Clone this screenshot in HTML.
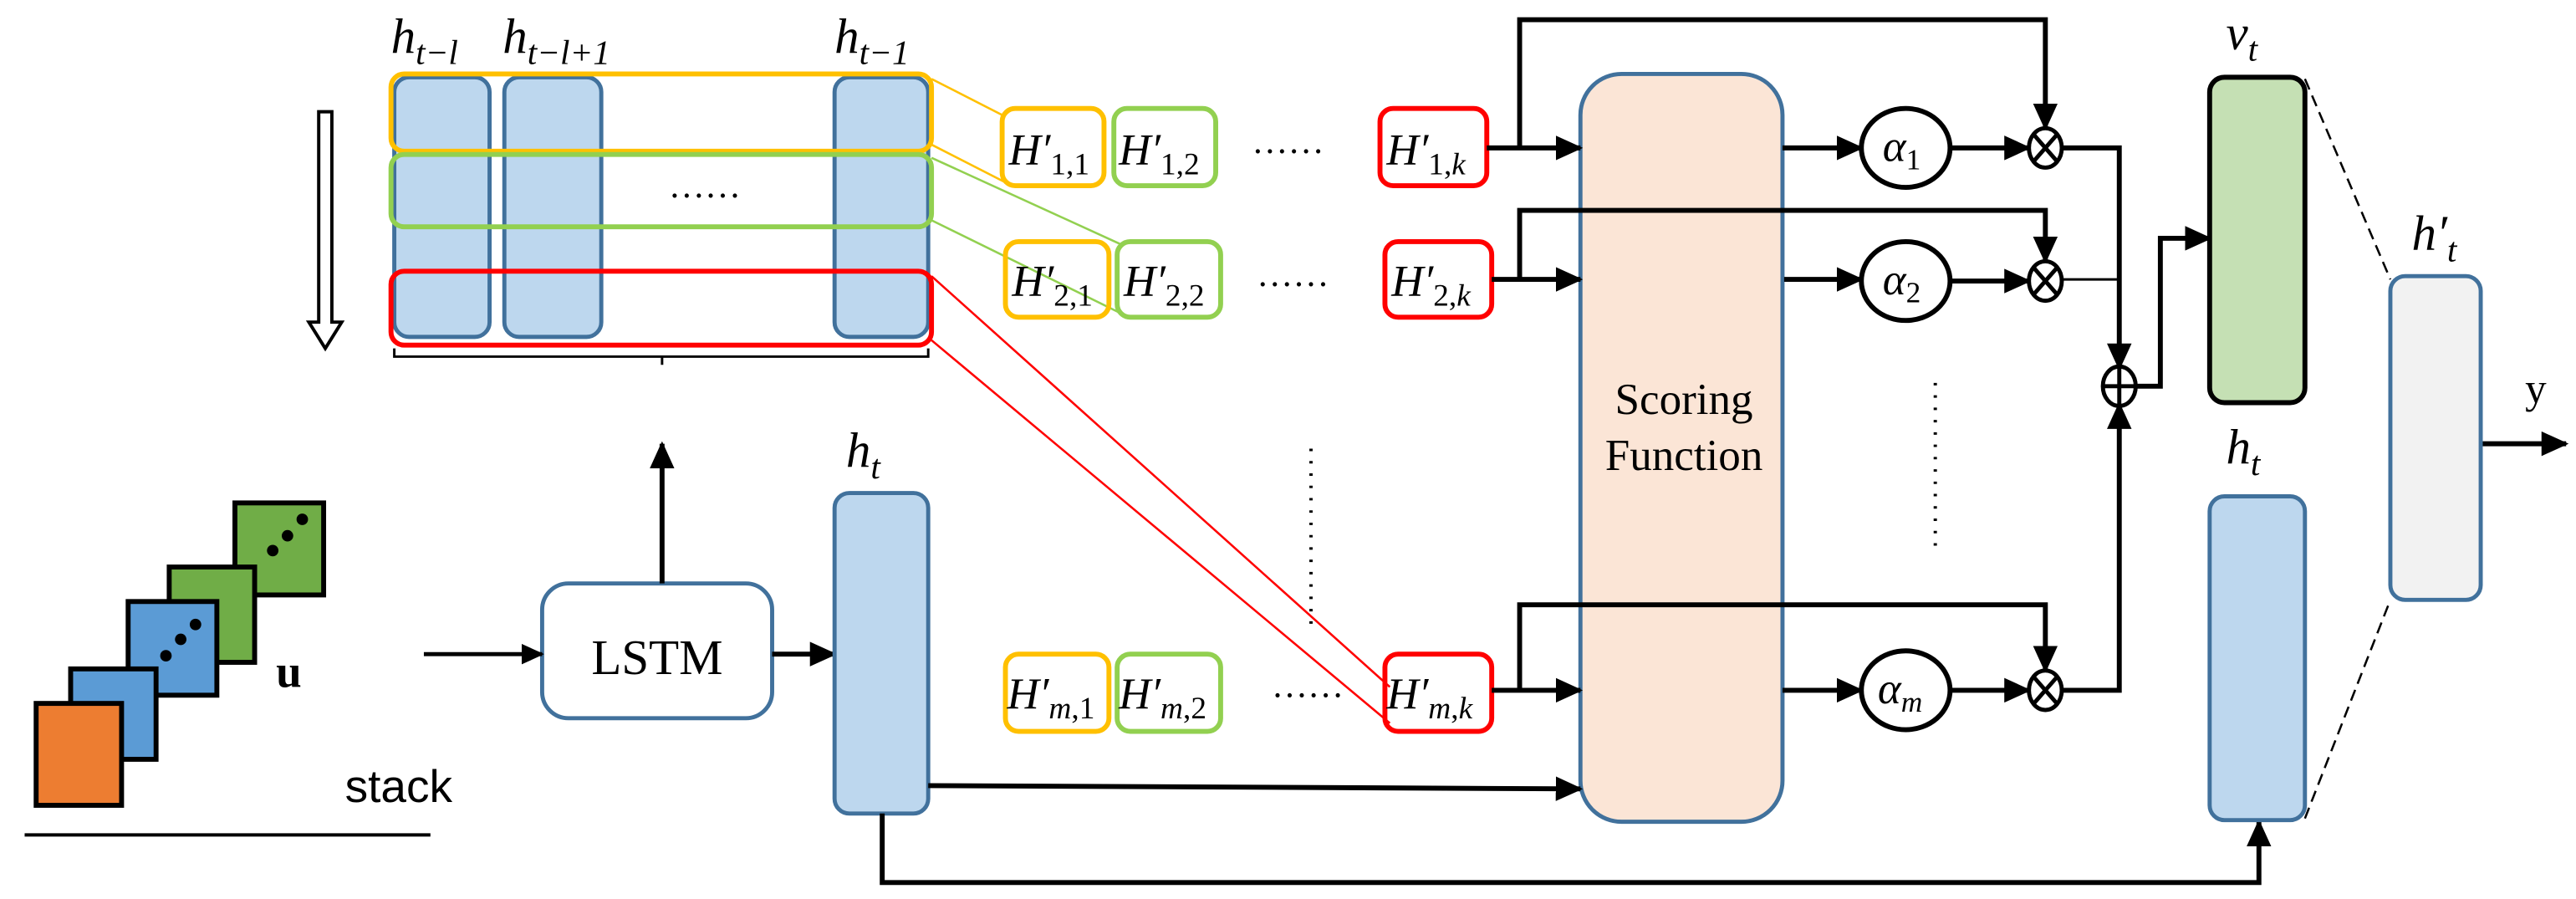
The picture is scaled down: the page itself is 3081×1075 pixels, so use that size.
<!DOCTYPE html>
<html><head><meta charset="utf-8"><style>html,body{margin:0;padding:0;background:#fff}svg{display:block}</style></head>
<body>
<svg width="3081" height="1075" viewBox="0 0 1568 547" preserveAspectRatio="none" xmlns="http://www.w3.org/2000/svg" font-family="Liberation Serif, serif">
<defs>
<marker id="ah" markerWidth="5.5" markerHeight="5" refX="5" refY="2.5" orient="auto" markerUnits="strokeWidth"><path d="M0,0 L5.5,2.5 L0,5 z" fill="#000"/></marker>
</defs>
<g fill="none">
<path d="M194,68 L202,68 L202,196 L208,196 L198,212 L188,196 L194,196 Z" stroke="#000" stroke-width="2" fill="#fff"/>
<rect x="240" y="47" width="58" height="158" rx="9" fill="#BDD7EE" stroke="#41719C" stroke-width="2.5"/>
<rect x="307" y="47" width="59" height="158" rx="9" fill="#BDD7EE" stroke="#41719C" stroke-width="2.5"/>
<rect x="508" y="47" width="57" height="158" rx="9" fill="#BDD7EE" stroke="#41719C" stroke-width="2.5"/>
<rect x="238" y="45" width="329" height="47" rx="8" stroke="#FFC000" stroke-width="3"/>
<rect x="238" y="94" width="329" height="44" rx="8" stroke="#92D050" stroke-width="3"/>
<rect x="238" y="165" width="329" height="45" rx="8" stroke="#FF0000" stroke-width="3"/>
<path d="M240,212 L240,217 L565,217 L565,212 M403,217 L403,222" stroke="#000" stroke-width="1.5"/>
<path d="M567,48 L614,72 M567,88 L614,112" stroke="#FFC000" stroke-width="1.3"/>
<path d="M567,96 L683,149 M567,134 L683,191" stroke="#92D050" stroke-width="1.3"/>
<path d="M567,168 L846,418 M567,207 L846,440" stroke="#FF0000" stroke-width="1.3"/>
<rect x="610" y="66" width="62" height="47" rx="8" fill="#fff" stroke="#FFC000" stroke-width="3"/>
<rect x="678" y="66" width="62" height="47" rx="8" fill="#fff" stroke="#92D050" stroke-width="3"/>
<rect x="840" y="66" width="65" height="47" rx="8" fill="#fff" stroke="#FF0000" stroke-width="3"/>
<rect x="612" y="147" width="63" height="46" rx="8" fill="none" stroke="#FFC000" stroke-width="3"/>
<rect x="680" y="147" width="63" height="46" rx="8" fill="none" stroke="#92D050" stroke-width="3"/>
<rect x="843" y="147" width="65" height="46" rx="8" fill="#fff" stroke="#FF0000" stroke-width="3"/>
<rect x="612" y="398" width="63" height="47" rx="8" fill="#fff" stroke="#FFC000" stroke-width="3"/>
<rect x="680" y="398" width="63" height="47" rx="8" fill="#fff" stroke="#92D050" stroke-width="3"/>
<rect x="843" y="398" width="65" height="47" rx="8" fill="none" stroke="#FF0000" stroke-width="3"/>
<path d="M798,273 L798,382" stroke="#000" stroke-width="2" stroke-dasharray="1.5,6"/>
<path d="M1178,233 L1178,337" stroke="#000" stroke-width="2" stroke-dasharray="1.5,6"/>
<rect x="962" y="45" width="123" height="455" rx="25" fill="#FBE5D6" stroke="#41719C" stroke-width="2.5"/>
<rect x="330" y="355" width="140" height="82" rx="16" fill="#fff" stroke="#41719C" stroke-width="2.5"/>
<path d="M403,355 L403,270" stroke="#000" stroke-width="3" marker-end="url(#ah)"/>
<path d="M258,398 L330,398" stroke="#000" stroke-width="2.5" marker-end="url(#ah)"/>
<path d="M470,398 L508,398" stroke="#000" stroke-width="3" marker-end="url(#ah)"/>
<rect x="508" y="300" width="57" height="195" rx="9" fill="#BDD7EE" stroke="#41719C" stroke-width="2.5"/>
<path d="M565,478 L962,480" stroke="#000" stroke-width="3" marker-end="url(#ah)"/>
<path d="M537,495 L537,537 L1375,537 L1375,500" stroke="#000" stroke-width="3" marker-end="url(#ah)"/>
<g stroke="#000" stroke-width="3">
<path d="M905,90 L962,90" marker-end="url(#ah)"/>
<path d="M925,90 L925,12 L1245,12 L1245,78" marker-end="url(#ah)"/>
<path d="M1085,90 L1133,90" marker-end="url(#ah)"/>
<path d="M1188,90 L1235,90" marker-end="url(#ah)"/>
<path d="M908,170 L962,170" marker-end="url(#ah)"/>
<path d="M925,170 L925,128 L1245,128 L1245,159" marker-end="url(#ah)"/>
<path d="M1086,170 L1133,170" marker-end="url(#ah)"/>
<path d="M1188,171 L1235,171" marker-end="url(#ah)"/>
<path d="M908,420 L962,420" marker-end="url(#ah)"/>
<path d="M925,420 L925,368 L1245,368 L1245,408" marker-end="url(#ah)"/>
<path d="M1085,420 L1133,420" marker-end="url(#ah)"/>
<path d="M1188,420 L1235,420" marker-end="url(#ah)"/>
<path d="M1256,90 L1290,90 L1290,224" marker-end="url(#ah)"/>
<path d="M1256,170 L1290,170" stroke-width="1.5"/>
<path d="M1256,420 L1290,420 L1290,246" marker-end="url(#ah)"/>
<path d="M1300,235 L1315,235 L1315,145 L1345,145" marker-end="url(#ah)"/>
<path d="M1510,270 L1562,270" marker-end="url(#ah)"/>
</g>
<ellipse cx="1160" cy="90" rx="27" ry="24" fill="#fff" stroke="#000" stroke-width="3"/>
<ellipse cx="1160" cy="171" rx="27" ry="24" fill="#fff" stroke="#000" stroke-width="3"/>
<ellipse cx="1160" cy="420" rx="27" ry="24" fill="#fff" stroke="#000" stroke-width="3"/>
<g stroke="#000" stroke-width="2.5" fill="#fff">
<ellipse cx="1245" cy="90" rx="10" ry="12"/><path d="M1238,82 L1252,98 M1252,82 L1238,98"/>
<ellipse cx="1245" cy="171" rx="10" ry="12"/><path d="M1238,163 L1252,179 M1252,163 L1238,179"/>
<ellipse cx="1245" cy="420" rx="10" ry="12"/><path d="M1238,412 L1252,428 M1252,412 L1238,428"/>
<ellipse cx="1290" cy="235" rx="10" ry="12"/><path d="M1280,235 L1300,235 M1290,223 L1290,247"/>
</g>
<rect x="1345" y="47" width="58" height="198" rx="9" fill="#C5E0B4" stroke="#000" stroke-width="3"/>
<rect x="1345" y="302" width="58" height="197" rx="9" fill="#BDD7EE" stroke="#41719C" stroke-width="2.5"/>
<rect x="1455" y="168" width="55" height="197" rx="9" fill="#F2F2F2" stroke="#41719C" stroke-width="2.5"/>
<path d="M1403,48 L1455,170 M1403,498 L1455,365" stroke="#000" stroke-width="1.3" stroke-dasharray="7,4"/>
<g stroke="#000" stroke-width="3">
<rect x="143" y="306" width="54" height="56" fill="#70AD47"/>
<rect x="103" y="345" width="52" height="58" fill="#70AD47"/>
<rect x="78" y="366" width="54" height="57" fill="#5B9BD5"/>
<rect x="43" y="407" width="52" height="55" fill="#5B9BD5"/>
<rect x="22" y="428" width="52" height="62" fill="#ED7D31"/>
</g>
<g fill="#000"><circle cx="166" cy="335" r="3.5"/><circle cx="175" cy="326" r="3.5"/><circle cx="184" cy="316" r="3.5"/>
<circle cx="101" cy="399" r="3.5"/><circle cx="110" cy="389" r="3.5"/><circle cx="119" cy="380" r="3.5"/></g>
<path d="M15,508 L262,508" stroke="#000" stroke-width="2"/>
</g>
<g fill="#000" font-style="italic" font-size="30">
<text x="238" y="32">h<tspan font-size="21" dy="7">t−l</tspan></text>
<text x="306" y="32">h<tspan font-size="21" dy="7">t−l+1</tspan></text>
<text x="508" y="32">h<tspan font-size="21" dy="7">t−1</tspan></text>
<text x="515" y="284">h<tspan font-size="21" dy="7">t</tspan></text>
<text x="1355" y="30">v<tspan font-size="21" dy="7">t</tspan></text>
<text x="1355" y="282">h<tspan font-size="21" dy="7">t</tspan></text>
<text x="1468" y="152">h′<tspan font-size="21" dy="7">t</tspan></text>
<g font-size="27">
<text x="614" y="100">H′<tspan font-size="19" dy="6" font-style="normal">1,1</tspan></text>
<text x="681" y="100">H′<tspan font-size="19" dy="6" font-style="normal">1,2</tspan></text>
<text x="844" y="100">H′<tspan font-size="19" dy="6"><tspan font-style="normal">1,</tspan>k</tspan></text>
<text x="616" y="180">H′<tspan font-size="19" dy="6" font-style="normal">2,1</tspan></text>
<text x="684" y="180">H′<tspan font-size="19" dy="6" font-style="normal">2,2</tspan></text>
<text x="847" y="180">H′<tspan font-size="19" dy="6"><tspan font-style="normal">2,</tspan>k</tspan></text>
<text x="613" y="431">H′<tspan font-size="19" dy="6">m<tspan font-style="normal">,1</tspan></tspan></text>
<text x="681" y="431">H′<tspan font-size="19" dy="6">m<tspan font-style="normal">,2</tspan></tspan></text>
<text x="844" y="431">H′<tspan font-size="19" dy="6">m<tspan font-style="normal">,</tspan>k</tspan></text>
<text x="1146" y="98">α<tspan font-size="18" dy="5" font-style="normal">1</tspan></text>
<text x="1146" y="179">α<tspan font-size="18" dy="5" font-style="normal">2</tspan></text>
<text x="1143" y="428">α<tspan font-size="18" dy="5">m</tspan></text>
</g>
</g>
<g fill="#000" font-size="22">
<text x="407" y="120">……</text>
<text x="762" y="93">……</text>
<text x="765" y="174">……</text>
<text x="774" y="424">……</text>
<text x="400" y="410" text-anchor="middle" font-size="30">LSTM</text>
<text x="1025" y="252" text-anchor="middle" font-size="27">Scoring</text>
<text x="1025" y="286" text-anchor="middle" font-size="27">Function</text>
<text x="1537" y="245" font-size="26">y</text>
<text x="168" y="418" font-size="28" font-weight="bold">u</text>
<text x="210" y="488" font-size="28" font-family="Liberation Sans, sans-serif">stack</text>
</g>
</svg>
</body></html>
